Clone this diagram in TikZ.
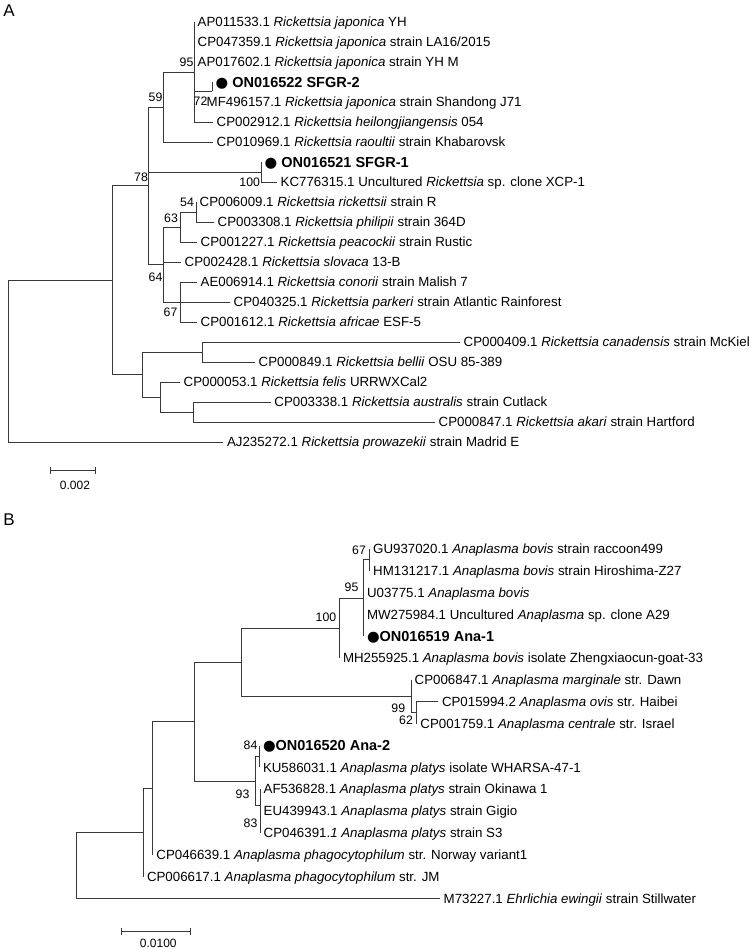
\documentclass[tikz,border=0pt]{standalone}
\usepackage{fontspec}
\setmainfont{Liberation Sans}
\newfontfamily\symfont{DejaVu Sans}
\begin{document}
\begin{tikzpicture}[x=1pt,y=-1pt,
  br/.style={draw=black!78, line width=0.95pt},
  leaf/.style={anchor=west, inner xsep=3.5pt, inner ysep=0pt, font=\fontsize{13.3}{16}\selectfont, text height=9.5pt, text depth=0pt},
  leafb/.style={anchor=west, inner xsep=3.5pt, inner ysep=0pt, font=\fontsize{14.5}{17}\selectfont\bfseries, text height=10.4pt, text depth=0pt},
  boot/.style={inner sep=0pt, font=\fontsize{12.3}{14}\selectfont},
  panel/.style={inner sep=0pt, font=\fontsize{17}{20}\selectfont},
  sclab/.style={inner sep=0pt, font=\fontsize{12}{14}\selectfont}]
\useasboundingbox (0,0) rectangle (750,949);
\node[panel] (labA) at (9,11) {A};
\node[panel] (labB) at (9,519.5) {B};
% ---------------- Tree A ----------------
\coordinate (A95) at (194,72);
\coordinate (A72) at (212,91);
\coordinate (A59) at (163,107);
\coordinate (AS1) at (261,172);
\coordinate (A54) at (196,212);
\coordinate (A63) at (180,227);
\coordinate (A67) at (180,302);
\coordinate (A64) at (163,264.5);
\coordinate (A78) at (148,185.7);
\coordinate (ABe) at (202.7,352);
\coordinate (AAu) at (193.3,412);
\coordinate (AFe) at (160.7,397);
\coordinate (AY) at (142.7,374.5);
\coordinate (AX) at (112,280.1);
\coordinate (AR) at (8.3,361);
\node[leaf] (a0) at (194,22) {AP011533.1 \textit{Rickettsia japonica} YH};
\node[leaf] (a1) at (194,42) {CP047359.1 \textit{Rickettsia japonica} strain LA16/2015};
\node[leaf] (a2) at (194,62) {AP017602.1 \textit{Rickettsia japonica} strain YH M};
\node[leafb] (a3) at (212,82) {{\symfont ●} ON016522 SFGR-2};
\node[leaf] (a4) at (203,102) {MF496157.1 \textit{Rickettsia japonica} strain Shandong J71};
\node[leaf] (a5) at (213,122) {CP002912.1 \textit{Rickettsia heilongjiangensis} 054};
\node[leaf] (a6) at (213,142) {CP010969.1 \textit{Rickettsia raoultii} strain Khabarovsk};
\node[leafb] (a7) at (261,162) {{\symfont ●} ON016521 SFGR-1};
\node[leaf] (a8) at (277,182) {KC776315.1 Uncultured \textit{Rickettsia} sp. clone XCP-1};
\node[leaf] (a9) at (196,202) {CP006009.1 \textit{Rickettsia rickettsii} strain R};
\node[leaf] (a10) at (214,222) {CP003308.1 \textit{Rickettsia philipii} strain 364D};
\node[leaf] (a11) at (197,242) {CP001227.1 \textit{Rickettsia peacockii} strain Rustic};
\node[leaf] (a12) at (181,262) {CP002428.1 \textit{Rickettsia slovaca} 13-B};
\node[leaf] (a13) at (197,282) {AE006914.1 \textit{Rickettsia conorii} strain Malish 7};
\node[leaf] (a14) at (230,302) {CP040325.1 \textit{Rickettsia parkeri} strain Atlantic Rainforest};
\node[leaf] (a15) at (197,322) {CP001612.1 \textit{Rickettsia africae} ESF-5};
\node[leaf] (a16) at (460,342) {CP000409.1 \textit{Rickettsia canadensis} strain McKiel};
\node[leaf] (a17) at (255,362) {CP000849.1 \textit{Rickettsia bellii} OSU 85-389};
\node[leaf] (a18) at (180,382) {CP000053.1 \textit{Rickettsia felis} URRWXCal2};
\node[leaf] (a19) at (270.7,402) {CP003338.1 \textit{Rickettsia australis} strain Cutlack};
\node[leaf] (a20) at (435,422) {CP000847.1 \textit{Rickettsia akari} strain Hartford};
\node[leaf] (a21) at (223.3,442) {AJ235272.1 \textit{Rickettsia prowazekii} strain Madrid E};
\draw[br] (AR) |- (AX);  \draw[br] (AR) |- (a21.west);
\draw[br] (AX) |- (A78); \draw[br] (AX) |- (AY);
\draw[br] (A78) |- (A59); \draw[br] (A78) |- (AS1); \draw[br] (A78) |- (A64);
\draw[br] (A59) |- (A95); \draw[br] (A59) |- (a6.west);
\draw[br] (A95) |- (a0.west); \draw[br] (A95) |- (a1.west); \draw[br] (A95) |- (a2.west);
\draw[br] (A95) |- (A72); \draw[br] (A95) |- (a5.west);
\draw[br] (A72) |- (a3.west);
\draw[br] (AS1) |- (a7.west); \draw[br] (AS1) |- (a8.west);
\draw[br] (A64) |- (A63); \draw[br] (A64) |- (a12.west); \draw[br] (A64) |- (A67);
\draw[br] (A63) |- (A54); \draw[br] (A63) |- (a11.west);
\draw[br] (A54) |- (a9.west); \draw[br] (A54) |- (a10.west);
\draw[br] (A67) |- (a13.west); \draw[br] (A67) |- (a14.west); \draw[br] (A67) |- (a15.west);
\draw[br] (AY) |- (ABe); \draw[br] (AY) |- (AFe);
\draw[br] (ABe) |- (a16.west); \draw[br] (ABe) |- (a17.west);
\draw[br] (AFe) |- (a18.west); \draw[br] (AFe) |- (AAu);
\draw[br] (AAu) |- (a19.west); \draw[br] (AAu) |- (a20.west);
\node[boot] (bA95) at (186.5,62) {95};
\node[boot] (bA59) at (155.5,97.5) {59};
\node[boot] (bA72) at (200.5,101) {72};
\node[boot] (bA78) at (141,177.5) {78};
\node[boot] (bA100) at (249.7,182.5) {100};
\node[boot] (bA54) at (187,202) {54};
\node[boot] (bA63) at (171,218) {63};
\node[boot] (bA64) at (155.5,277) {64};
\node[boot] (bA67) at (170.5,312) {67};
\coordinate (sA1) at (50,470);
\coordinate (sA2) at (95,470);
\draw[br] (sA1) -- (sA2);
\draw[br] ([yshift=-3.5pt]sA1) -- ([yshift=3.5pt]sA1);
\draw[br] ([yshift=-3.5pt]sA2) -- ([yshift=3.5pt]sA2);
\node[sclab] (sAl) at (75,485) {0.002};
% ---------------- Tree B ----------------
\coordinate (B67) at (369.5,559.9);
\coordinate (B95) at (363.3,598.1);
\coordinate (B100) at (339.3,628.2);
\coordinate (B62) at (416.7,712.7);
\coordinate (B99) at (411,696.3);
\coordinate (BZ) at (241.7,662.3);
\coordinate (B84) at (259.3,756.4);
\coordinate (B83) at (260,821.9);
\coordinate (B93) at (260,805.5);
\coordinate (BP) at (255,781);
\coordinate (BW) at (194.3,721.6);
\coordinate (BS) at (152.7,788.1);
\coordinate (BQ) at (143.3,832.3);
\coordinate (BR) at (76,865.3);
\node[leaf] (b0) at (369.5,549) {GU937020.1 \textit{Anaplasma bovis} strain raccoon499};
\node[leaf] (b1) at (369.5,570.8) {HM131217.1 \textit{Anaplasma bovis} strain Hiroshima-Z27};
\node[leaf] (b2) at (363.3,592.7) {U03775.1 \textit{Anaplasma bovis}};
\node[leaf] (b3) at (363.3,614.5) {MW275984.1 Uncultured \textit{Anaplasma} sp. clone A29};
\node[leafb] (b4) at (363.3,636.3) {{\symfont ●}ON016519 Ana-1};
\node[leaf] (b5) at (339.3,658.2) {MH255925.1 \textit{Anaplasma bovis} isolate Zhengxiaocun-goat-33};
\node[leaf] (b6) at (411,680) {CP006847.1 \textit{Anaplasma marginale} str. Dawn};
\node[leaf] (b7) at (438.3,701.8) {CP015994.2 \textit{Anaplasma ovis} str. Haibei};
\node[leaf] (b8) at (416.7,723.6) {CP001759.1 \textit{Anaplasma centrale} str. Israel};
\node[leafb] (b9) at (259.3,745.5) {{\symfont ●}ON016520 Ana-2};
\node[leaf] (b10) at (259.3,767.3) {KU586031.1 \textit{Anaplasma platys} isolate WHARSA-47-1};
\node[leaf] (b11) at (260,789.1) {AF536828.1 \textit{Anaplasma platys} strain Okinawa 1};
\node[leaf] (b12) at (260,811) {EU439943.1 \textit{Anaplasma platys} strain Gigio};
\node[leaf] (b13) at (260,832.8) {CP046391.\textit{1 Anaplasma platys} strain S3};
\node[leaf] (b14) at (152.7,854.6) {CP046639.1 \textit{Anaplasma phagocytophilum} str. Norway variant1};
\node[leaf] (b15) at (143.3,876.5) {CP006617.1 \textit{Anaplasma phagocytophilum} str. JM};
\node[leaf] (b16) at (440,898.3) {M73227.1 \textit{Ehrlichia ewingii} strain Stillwater};
\draw[br] (BR) |- (BQ); \draw[br] (BR) |- (b16.west);
\draw[br] (BQ) |- (BS); \draw[br] (BQ) |- (b15.west);
\draw[br] (BS) |- (BW); \draw[br] (BS) |- (b14.west);
\draw[br] (BW) |- (BZ); \draw[br] (BW) |- (BP);
\draw[br] (BZ) |- (B100); \draw[br] (BZ) |- (B99);
\draw[br] (B100) |- (B95); \draw[br] (B100) |- (b5.west);
\draw[br] (B95) |- (B67); \draw[br] (B95) |- (b2.west); \draw[br] (B95) |- (b3.west); \draw[br] (B95) |- (b4.west);
\draw[br] (B67) |- (b0.west); \draw[br] (B67) |- (b1.west);
\draw[br] (B99) |- (b6.west); \draw[br] (B99) |- (B62);
\draw[br] (B62) |- (b7.west); \draw[br] (B62) |- (b8.west);
\draw[br] (BP) |- (B84); \draw[br] (BP) |- (B93);
\draw[br] (B84) |- (b9.west); \draw[br] (B84) |- (b10.west);
\draw[br] (B93) |- (b11.west); \draw[br] (B93) |- (B83);
\draw[br] (B83) |- (b12.west); \draw[br] (B83) |- (b13.west);
\node[boot] (bB67) at (359,550) {67};
\node[boot] (bB95) at (351.5,587.5) {95};
\node[boot] (bB100) at (326,617) {100};
\node[boot] (bB99) at (398.3,708) {99};
\node[boot] (bB62) at (406,720) {62};
\node[boot] (bB84) at (250.5,745) {84};
\node[boot] (bB93) at (242.5,794) {93};
\node[boot] (bB83) at (250.5,823) {83};
\coordinate (sB1) at (121.7,931.7);
\coordinate (sB2) at (190,931.7);
\draw[br] (sB1) -- (sB2);
\draw[br] ([yshift=-3.5pt]sB1) -- ([yshift=3.5pt]sB1);
\draw[br] ([yshift=-3.5pt]sB2) -- ([yshift=3.5pt]sB2);
\node[sclab] (sBl) at (158.3,943) {0.0100};
\end{tikzpicture}
\end{document}
